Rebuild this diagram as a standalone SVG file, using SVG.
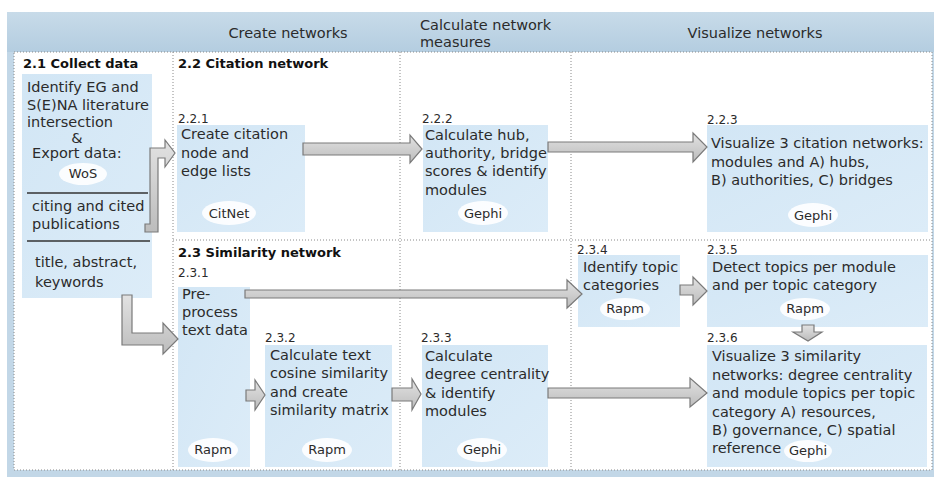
<svg xmlns="http://www.w3.org/2000/svg" width="934" height="477" viewBox="0 0 934 477">
  <defs>
    <linearGradient id="hdr" x1="0" y1="0" x2="0" y2="1">
      <stop offset="0" stop-color="#c8dbe9"/>
      <stop offset="1" stop-color="#b4cde0"/>
    </linearGradient>
    <linearGradient id="boxfill" x1="0" y1="0" x2="1" y2="1">
      <stop offset="0" stop-color="#d2e6f5"/>
      <stop offset="1" stop-color="#dcecf8"/>
    </linearGradient>
    <linearGradient id="arrowfill" x1="0" y1="0" x2="0" y2="1">
      <stop offset="0" stop-color="#e2e2e2"/>
      <stop offset="1" stop-color="#bcbcbc"/>
    </linearGradient>
    <style>
      text { font-family: "DejaVu Sans", Verdana, sans-serif; fill: #2b2b2b; }
      .hd { font-size: 14.5px; }
      .sec { font-size: 13px; font-weight: bold; fill: #111; }
      .num { font-size: 12px; }
      .body { font-size: 14.5px; }
      .tool { font-size: 13px; text-anchor: middle; }
      .box { fill: url(#boxfill); }
      .blob { fill: #ffffff; opacity: 0.9; }
      .grid { stroke: #8a8a8a; stroke-width: 1; stroke-dasharray: 1 2; fill: none; }
      .rule { stroke: #333; stroke-width: 1.5; }
      .arrow { fill: url(#arrowfill); stroke: #7a7a7a; stroke-width: 1.2; stroke-linejoin: miter; }
    </style>
  </defs>

  <!-- frame and header band -->
  <rect x="7" y="12" width="927" height="465" fill="#c2d7e7"/>
  <rect x="7" y="12" width="927" height="40" fill="url(#hdr)"/>
  <rect x="14" y="52" width="918" height="418" fill="#ffffff"/>

  <g id="headers">
    <text class="hd" x="288" y="38" text-anchor="middle">Create networks</text>
    <text class="hd" x="420" y="30">Calculate network</text>
    <text class="hd" x="420" y="47">measures</text>
    <text class="hd" x="755" y="38" text-anchor="middle">Visualize networks</text>
  </g>

  <!-- lane grid -->
  <g id="grid">
    <rect class="grid" x="14" y="52" width="918" height="418"/>
    <line class="grid" x1="173" y1="52" x2="173" y2="470"/>
    <line class="grid" x1="400" y1="52" x2="400" y2="470"/>
    <line class="grid" x1="571" y1="52" x2="571" y2="470"/>
    <line class="grid" x1="173" y1="240" x2="932" y2="240"/>
  </g>

  <g id="lanes">
    <text class="sec" x="178" y="68">2.2 Citation network</text>
    <text class="sec" x="178" y="257">2.3 Similarity network</text>
  </g>

  <!-- 2.1 collect data -->
  <g id="collect-data">
    <text class="sec" x="23" y="68">2.1 Collect data</text>
    <rect class="box" x="22" y="74" width="130" height="224"/>
    <text class="body" x="27" y="92">Identify EG and</text>
    <text class="body" x="27" y="110">S(E)NA literature</text>
    <text class="body" x="27" y="127">intersection</text>
    <text class="body" x="77" y="143" text-anchor="middle">&amp;</text>
    <text class="body" x="32" y="158">Export data:</text>
    <ellipse class="blob" cx="83" cy="174" rx="24" ry="11"/>
    <text class="tool" x="83" y="178">WoS</text>
    <line class="rule" x1="27" y1="193" x2="148" y2="193"/>
    <text class="body" x="32" y="211">citing and cited</text>
    <text class="body" x="32" y="229">publications</text>
    <line class="rule" x1="27" y1="241" x2="150" y2="241"/>
    <text class="body" x="35" y="267">title, abstract,</text>
    <text class="body" x="35" y="287">keywords</text>
  </g>

  <!-- 2.2 citation network -->
  <g id="step-221">
    <text class="num" x="178" y="123">2.2.1</text>
    <rect class="box" x="177" y="125" width="128" height="107"/>
    <text class="body" x="181" y="139">Create citation</text>
    <text class="body" x="181" y="158">node and</text>
    <text class="body" x="181" y="176">edge lists</text>
    <ellipse class="blob" cx="229" cy="213" rx="27" ry="12"/>
    <text class="tool" x="229" y="218">CitNet</text>
  </g>

  <g id="step-222">
    <text class="num" x="422" y="123">2.2.2</text>
    <rect class="box" x="423" y="125" width="125" height="107"/>
    <text class="body" x="425" y="140">Calculate hub,</text>
    <text class="body" x="425" y="158">authority, bridge</text>
    <text class="body" x="425" y="176">scores &amp; identify</text>
    <text class="body" x="425" y="195">modules</text>
    <ellipse class="blob" cx="483" cy="213" rx="25" ry="12"/>
    <text class="tool" x="483" y="218">Gephi</text>
  </g>

  <g id="step-223">
    <text class="num" x="707" y="124">2.2.3</text>
    <rect class="box" x="707" y="125" width="221" height="107"/>
    <text class="body" x="711" y="148">Visualize 3 citation networks:</text>
    <text class="body" x="711" y="167">modules and A) hubs,</text>
    <text class="body" x="711" y="185">B) authorities, C) bridges</text>
    <ellipse class="blob" cx="813" cy="215" rx="25" ry="12"/>
    <text class="tool" x="813" y="220">Gephi</text>
  </g>

  <!-- 2.3 similarity network -->
  <g id="step-231">
    <text class="num" x="178" y="277">2.3.1</text>
    <rect class="box" x="178" y="287" width="72" height="180"/>
    <text class="body" x="182" y="299">Pre-</text>
    <text class="body" x="182" y="317">process</text>
    <text class="body" x="182" y="335">text data</text>
    <ellipse class="blob" cx="213" cy="450" rx="25" ry="12"/>
    <text class="tool" x="213" y="454">Rapm</text>
  </g>

  <g id="step-232">
    <text class="num" x="265" y="342">2.3.2</text>
    <rect class="box" x="265" y="345" width="127" height="122"/>
    <text class="body" x="270" y="360">Calculate text</text>
    <text class="body" x="270" y="378">cosine similarity</text>
    <text class="body" x="270" y="397">and create</text>
    <text class="body" x="270" y="415">similarity matrix</text>
    <ellipse class="blob" cx="327" cy="450" rx="25" ry="12"/>
    <text class="tool" x="327" y="454">Rapm</text>
  </g>

  <g id="step-233">
    <text class="num" x="421" y="342">2.3.3</text>
    <rect class="box" x="422" y="345" width="126" height="122"/>
    <text class="body" x="425" y="361">Calculate</text>
    <text class="body" x="425" y="379">degree centrality</text>
    <text class="body" x="425" y="398">&amp; identify</text>
    <text class="body" x="425" y="416">modules</text>
    <ellipse class="blob" cx="482" cy="450" rx="25" ry="12"/>
    <text class="tool" x="482" y="454">Gephi</text>
  </g>

  <g id="step-234">
    <text class="num" x="577" y="254">2.3.4</text>
    <rect class="box" x="578" y="255" width="102" height="72"/>
    <text class="body" x="583" y="272">Identify topic</text>
    <text class="body" x="583" y="290">categories</text>
    <ellipse class="blob" cx="625" cy="309" rx="25" ry="11"/>
    <text class="tool" x="625" y="313">Rapm</text>
  </g>

  <g id="step-235">
    <text class="num" x="707" y="254">2.3.5</text>
    <rect class="box" x="707" y="255" width="221" height="72"/>
    <text class="body" x="712" y="272">Detect topics per module</text>
    <text class="body" x="712" y="290">and per topic category</text>
    <ellipse class="blob" cx="805" cy="309" rx="25" ry="11"/>
    <text class="tool" x="805" y="313">Rapm</text>
  </g>

  <g id="step-236">
    <text class="num" x="707" y="342">2.3.6</text>
    <rect class="box" x="707" y="345" width="220" height="122"/>
    <text class="body" x="712" y="361">Visualize 3 similarity</text>
    <text class="body" x="712" y="380">networks: degree centrality</text>
    <text class="body" x="712" y="398">and module topics per topic</text>
    <text class="body" x="712" y="417">category A) resources,</text>
    <text class="body" x="712" y="435">B) governance, C) spatial</text>
    <text class="body" x="712" y="453">reference</text>
    <ellipse class="blob" cx="808" cy="451" rx="24" ry="11"/>
    <text class="tool" x="808" y="455">Gephi</text>
  </g>

  <!-- block arrows between steps -->
  <g id="connectors">
    <polygon class="arrow" points="145,224 150,224 150,148 165,148 165,140 175,153 165,167 165,158 158,158 158,232 145,232"/>
    <polygon class="arrow" points="122,295 132,295 132,333 163,333 163,323 178,339 163,354 163,345 122,345"/>
    <polygon class="arrow" points="303,143 410,143 410,135 422,149 410,163 410,155 303,155"/>
    <polygon class="arrow" points="548,142 693,142 693,133 707,147 693,162 693,152 548,152"/>
    <polygon class="arrow" points="245,290 567,290 567,280 582,294 567,308 567,298 245,298"/>
    <polygon class="arrow" points="246,390 255,390 255,380 265,395 255,410 255,401 246,401"/>
    <polygon class="arrow" points="392,388 412,388 412,379 421,394 412,410 412,401 392,401"/>
    <polygon class="arrow" points="548,388 690,388 690,378 707,393 690,407 690,398 548,398"/>
    <polygon class="arrow" points="680,285 693,285 693,277 707,291 693,305 693,295 680,295"/>
    <polygon class="arrow" points="802,325 814,325 814,332 822,332 808,341 793,332 802,332"/>
  </g>
</svg>
